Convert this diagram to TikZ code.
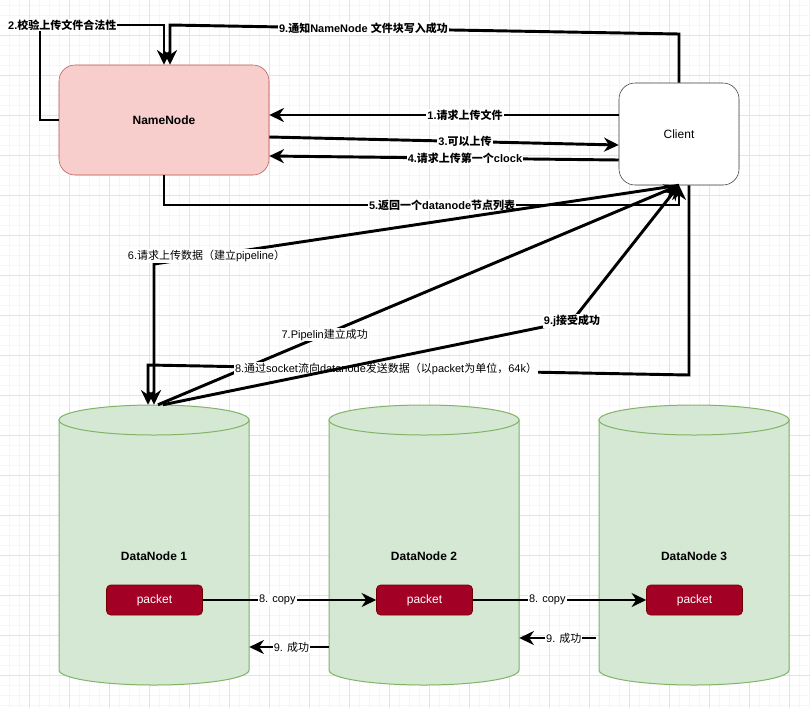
\documentclass[tikz,border=0pt]{standalone}
\usepackage{fontspec}
\setmainfont{Liberation Sans}
\newfontfamily\cjk{Noto Sans CJK SC}
\newcommand{\zh}[1]{{\cjk #1}}
\usetikzlibrary{arrows.meta}

\definecolor{nnfill}{HTML}{F8CECC}
\definecolor{nnedge}{HTML}{B85450}
\definecolor{dnfill}{HTML}{D5E8D4}
\definecolor{dnedge}{HTML}{82B366}
\definecolor{pktfill}{HTML}{A20025}
\definecolor{pktedge}{HTML}{6F0000}
\definecolor{cledge}{HTML}{36393D}

\begin{document}
\begin{tikzpicture}[x=0.75pt, y=-0.75pt,
		gridminor/.style={draw=gray!7, line width=0.4pt},
		gridmajor/.style={draw=gray!22, line width=0.5pt},
		lbl/.style={fill=white, inner sep=0.8pt, font=\fontsize{8.25}{10}\selectfont},
		blbl/.style={lbl, font=\fontsize{8.25}{10}\selectfont\bfseries},
		flow/.style={line width=2.2pt, -{Stealth[length=11pt, width=10.5pt, inset=3.5pt]}},
		cflow/.style={line width=1.5pt, -{Stealth[length=11pt, width=10.5pt, inset=3.5pt]}},
		nn/.style={draw=nnedge, fill=nnfill, rounded corners=12pt, minimum width=157.5pt, minimum height=82.5pt, font=\fontsize{9}{11}\selectfont\bfseries},
		cl/.style={draw=cledge, fill=white, rounded corners=12pt, minimum width=90pt, minimum height=76.5pt, font=\fontsize{9}{11}\selectfont},
		cyl/.style={draw=dnedge, fill=dnfill, line width=0.75pt},
		pkt/.style={draw=pktedge, fill=pktfill, text=white, rounded corners=3pt, minimum width=72pt, minimum height=22.5pt, font=\fontsize{9}{11}\selectfont},
		dnlabel/.style={font=\fontsize{9}{11}\selectfont\bfseries}]

			\fill[white] (0,0) rectangle (810,708);
			\useasboundingbox (0,0) rectangle (810,708);
			\foreach \x in {9.3,19.3,...,809.3} \draw[gridminor] (\x,0) -- (\x,708);
			\foreach \y in {5.3,15.3,...,705.3} \draw[gridminor] (0,\y) -- (810,\y);
			\foreach \x in {29.3,69.3,...,789.3} \draw[gridmajor] (\x,0) -- (\x,708);
			\foreach \y in {35.3,75.3,...,675.3} \draw[gridmajor] (0,\y) -- (810,\y);

			\node[nn] (namenode) at (164,120) {NameNode};
			\node[cl] (client) at (679,134) {Client};

			\foreach \i/\x in {1/154, 2/424, 3/694} {
				\draw[cyl] (\x-95,420) -- (\x-95,670) arc (180:0:95 and 15) -- (\x+95,420) -- cycle;
				\draw[cyl] (\x,420) ellipse (95 and 15);
				\node[minimum width=142.5pt, minimum height=210pt, inner sep=0pt] (dn\i) at (\x,545) {};
				\node[dnlabel] (dnname\i) at (\x,556) {DataNode \i};
				\node[pkt] (p\i) at (\x.5,600) {packet};
			}

			\draw[flow] (namenode.west) -| (40,25) -- node[blbl, pos=0.18] {2.\zh{校验上传文件合法性}} (namenode.north |- 0,25) -- (namenode.north);
			\draw[flow] (client.north) -- (client.north |- 0,34) -- node[blbl, pos=0.62] {9.\zh{通知}NameNode \zh{文件块写入成功}} (170,25) -- (namenode.north -| 170,0);

			\draw[flow] (client.west |- 0,115) -- node[blbl, pos=0.44] {1.\zh{请求上传文件}} (namenode.east |- 0,115);
			\draw[flow] (namenode.east |- 0,137) -- node[blbl, pos=0.56] {3.\zh{可以上传}} (client.west |- 0,145);
			\draw[flow] (client.west |- 0,160) -- node[blbl, pos=0.44] {4.\zh{请求上传第一个}clock} (namenode.east |- 0,156);
			\draw[flow] (namenode.south) -- (namenode.south |- 0,205) -- node[blbl, pos=0.54] {5.\zh{返回一个}datanode\zh{节点列表}} (client.south |- 0,205) -- (client.south);

			\draw[flow] (client.south) -- node[lbl, pos=0.9] {6.\zh{请求上传数据（建立}pipeline\zh{）}} (dn1.north |- 0,264) -- (dn1.north);
			\draw[flow] (dn1.north -| 158,0) -- node[lbl, pos=0.32] {7.Pipelin\zh{建立成功}} (client.south);
			\draw[flow] (client.south -| 689,0) -- (689,375) -- node[lbl, pos=0.56] {8.\zh{通过}socket\zh{流向}datanode\zh{发送数据（以}packet\zh{为单位，}64k\zh{）}} (148,365) -- (dn1.north -| 148,0);
			\draw[flow] (dn1.north -| 163,0) -- (572,321) node[blbl] (ack) {9.j\zh{接受成功}} -- (client.south);

			\draw[cflow] (p1) -- node[lbl, pos=0.43] {8. copy} (p2);
			\draw[cflow] (p2) -- node[lbl, pos=0.43] {8. copy} (p3);
			\coordinate (ack3) at (596,638);
			\draw[cflow] (dn2.west |- 0,647) -- node[lbl, pos=0.47] {9. \zh{成功}} (dn1.east |- 0,647);
			\draw[cflow] (ack3) -- node[lbl, pos=0.42] {9. \zh{成功}} (dn2.east |- 0,638);

\end{tikzpicture}
\end{document}
